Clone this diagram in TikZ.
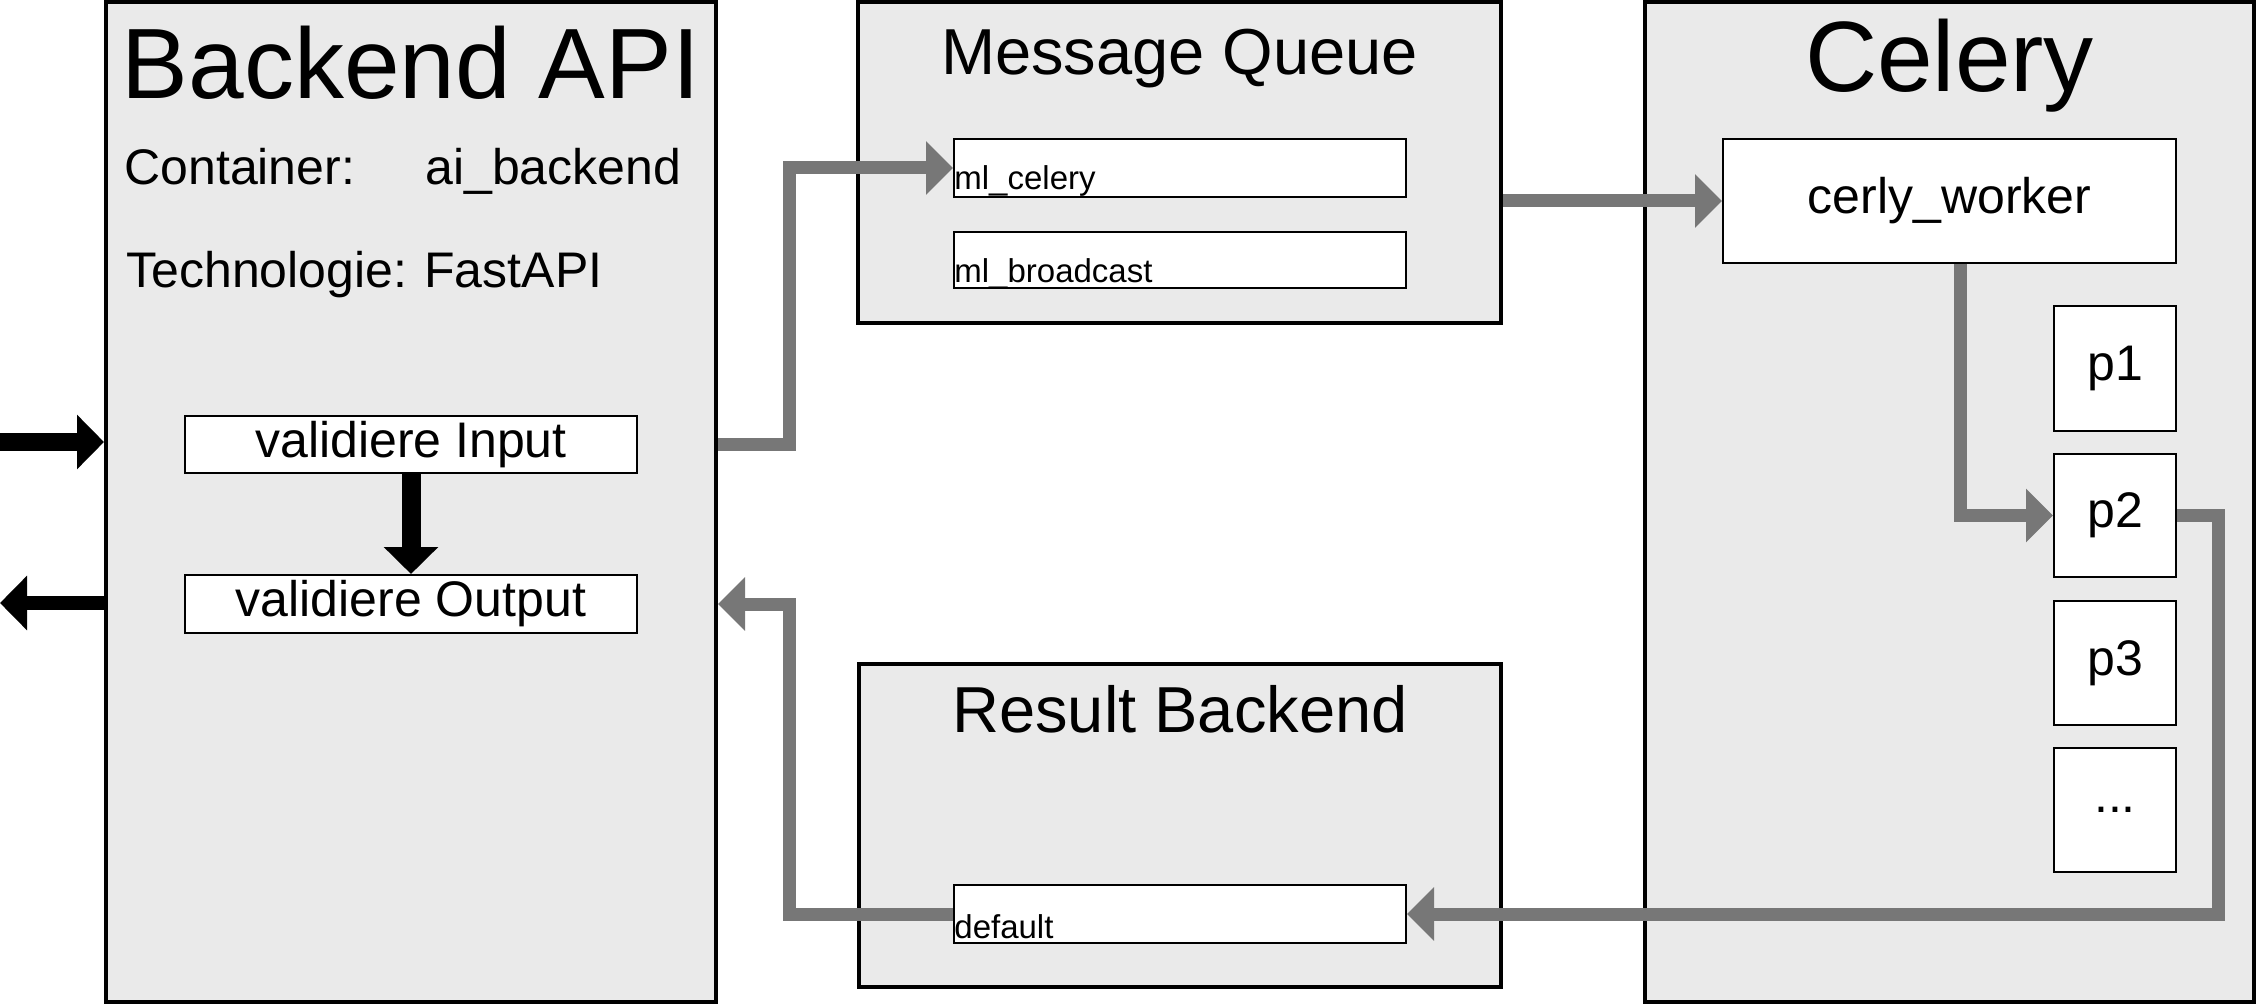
\documentclass[tikz,border=0pt]{standalone}
\usepackage{fontspec}
\setmainfont{Liberation Sans}
\usetikzlibrary{arrows.meta}
\definecolor{boxfill}{RGB}{234,234,234}
\definecolor{arrowgray}{RGB}{119,119,119}
\begin{document}
\begin{tikzpicture}[x=0.5pt,y=-0.5pt,
  outerbox/.style={draw=black, line width=2pt, fill=boxfill, inner sep=0pt},
  innerbox/.style={draw=black, line width=1pt, fill=white, inner sep=0pt, font=\fontsize{25pt}{30pt}\selectfont},
  queuebox/.style={draw=black, line width=1pt, fill=white, inner sep=0pt, minimum width=226pt, minimum height=29pt},
  bigtitle/.style={inner sep=0pt, anchor=base, font=\fontsize{50pt}{60pt}\selectfont},
  midtitle/.style={inner sep=0pt, anchor=base, font=\fontsize{32.5pt}{39pt}\selectfont},
  infotxt/.style={inner sep=0pt, anchor=base west, font=\fontsize{25pt}{30pt}\selectfont},
  smalltxt/.style={inner sep=0pt, anchor=base west, font=\fontsize{16.5pt}{20pt}\selectfont},
  garrow/.style={draw=arrowgray, line width=6.5pt, line join=miter, -{Triangle[length=13.5pt, width=26pt]}},
  barrow/.style={draw=black, line join=miter, -{Triangle[length=13.5pt, width=26.5pt]}}
]
\useasboundingbox (0,0) rectangle (2257,1005);

% outer containers
\node[outerbox, minimum width=305pt, minimum height=500pt] (be) at (411,502) {};
\node[outerbox, minimum width=321.5pt, minimum height=160.5pt] (mq) at (1179.5,162.5) {};
\node[outerbox, minimum width=321pt, minimum height=161.5pt] (rb) at (1180,825.5) {};
\node[outerbox, minimum width=304.5pt, minimum height=500pt] (ce) at (1949.5,502) {};

% titles
\node[bigtitle] (betitle) at (411,99) {Backend API};
\node[bigtitle] (cetitle) at (1949.5,92) {Celery};
\node[midtitle] (mqtitle) at (1179.5,75) {Message Queue};
\node[midtitle] (rbtitle) at (1180,732) {Result Backend};

% info text
\node[infotxt] (lcont) at (124,185) {Container:};
\node[infotxt] (vcont) at (425,185) {ai\_backend};
\node[infotxt] (ltech) at (126,288) {Technologie:};
\node[infotxt] (vtech) at (424,288) {FastAPI};

% inner boxes
\node[innerbox, minimum width=226pt, minimum height=28.5pt] (vin) at (411,444.5) {validiere Input};
\node[innerbox, minimum width=226pt, minimum height=29pt] (vout) at (411,604) {validiere Output};
\node[queuebox] (mlc) at (1180,168) {};
\node[queuebox, minimum height=28pt] (mlb) at (1180,260) {};
\node[queuebox] (def) at (1180,914) {};
\node[innerbox, minimum width=226.5pt, minimum height=62pt] (cw) at (1949.5,201) {cerly\_worker};
\node[innerbox, minimum width=61pt, minimum height=62.5pt] (p1) at (2115,368.5) {p1};
\node[innerbox, minimum width=61pt, minimum height=61.5pt] (p2) at (2115,515.5) {p2};
\node[innerbox, minimum width=61pt, minimum height=62pt] (p3) at (2115,663) {p3};
\node[innerbox, minimum width=61pt, minimum height=62pt] (pd) at (2115,810) {...};

% junction coordinates
\coordinate (j1) at (789,0);
\coordinate (j3) at (1960,0);
\coordinate (j4) at (2218,0);
\coordinate (inL) at (0,442);
\coordinate (outL) at (0,603);

% grey connectors
\draw[garrow] (be.east |- vin.center) -- (j1 |- vin.center) -- (j1 |- mlc.west) -- (mlc.west);
\draw[garrow] (mq.east |- cw.west) -- (cw.west);
\draw[garrow] (j3 |- cw.south) -- (j3 |- p2.west) -- (p2.west);
\draw[garrow] (p2.east) -- (j4 |- p2.east) -- (j4 |- def.east) -- (def.east);
\draw[garrow] (def.west) -- (j1 |- def.west) -- (j1 |- vout.center) -- (be.east |- vout.center);

% black connectors
\draw[barrow, line width=9pt] (inL) -- (be.west |- inL);
\draw[barrow, line width=7pt] (be.west |- outL) -- (outL);
\draw[barrow, line width=9.5pt] (vin.south) -- (vout.north);

% queue labels
\node[smalltxt] (tmlc) at (954,190) {ml\_celery};
\node[smalltxt] (tmlb) at (954,283) {ml\_broadcast};
\node[smalltxt] (tdef) at (954,938) {default};
\end{tikzpicture}
\end{document}
